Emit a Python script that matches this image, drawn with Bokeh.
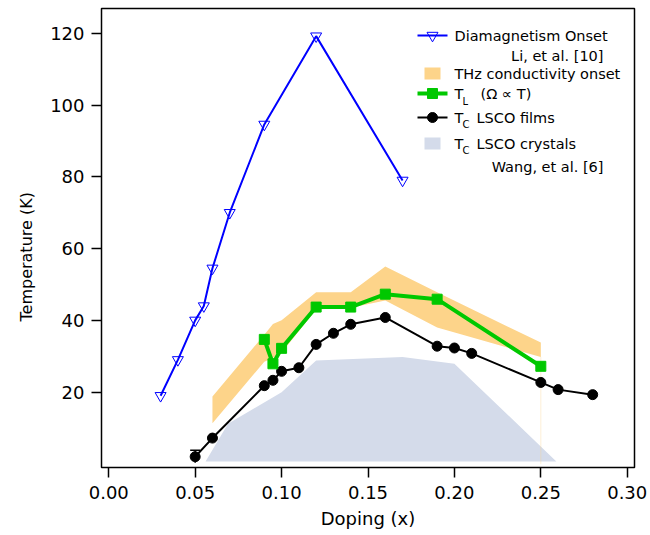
from bokeh.plotting import figure
from bokeh.models import (Range1d, Label, Whisker, ColumnDataSource, TeeHead,
                          FixedTicker, PrintfTickFormatter, Title)
from bokeh.embed import file_html
from bokeh.resources import INLINE

# Diamagnetism onset (Li et al.)
dia_x = [0.03, 0.04, 0.05, 0.055, 0.06, 0.07, 0.09, 0.12, 0.17]
dia_T = [19.0, 29.0, 40.0, 44.0, 54.5, 70.0, 94.6, 119.2, 79.0]

# THz conductivity onset band
band_x = [0.06, 0.09, 0.095, 0.10, 0.12, 0.14, 0.16, 0.19, 0.25]
band_hi = [18.8, 36.0, 39.0, 40.0, 47.8, 47.8, 55.0, 47.8, 33.8]
band_lo = [11.3, 28.5, 29.5, 31.0, 43.0, 43.5, 45.5, 38.0, 29.8]

# T_L (Omega proportional to T)
tl_x = [0.09, 0.095, 0.10, 0.12, 0.14, 0.16, 0.19, 0.25]
tl_T = [34.7, 27.9, 32.2, 43.7, 43.7, 47.3, 45.9, 27.2]

# Tc of LSCO films
film_x = [0.05, 0.06, 0.09, 0.095, 0.10, 0.11, 0.12, 0.13, 0.14, 0.16,
          0.19, 0.20, 0.21, 0.25, 0.26, 0.28]
film_T = [2.0, 7.2, 21.8, 23.3, 25.8, 26.8, 33.3, 36.4, 38.9, 40.8,
          32.8, 32.3, 30.8, 22.7, 20.7, 19.3]
err_x = [0.05]
err_lo = [0.3]
err_hi = [3.8]

# Tc of LSCO crystals (Wang et al.)
cry_x = [0.056, 0.069, 0.10, 0.12, 0.17, 0.20, 0.259]
cry_T = [0.7, 11.2, 20.0, 28.8, 29.8, 27.9, 0.7]

x_ticks = [0.0, 0.05, 0.10, 0.15, 0.20, 0.25, 0.30]
y_ticks = [20, 40, 60, 80, 100, 120]

BLUE = "#0000FF"
GREEN = "#00C800"
ORANGE = "#FDD48A"
CRYSTAL = "#D4DBEA"
FONT = "DejaVu Sans"

W, H = 650, 535
BL, BR, BT, BB = 101, 16, 8, 68
X0, X1 = -0.0042, 0.3042
Y0, Y1 = -1.0, 126.9

p = figure(width=W, height=H, output_backend="svg", toolbar_location=None,
           x_range=Range1d(X0, X1), y_range=Range1d(Y0, Y1),
           min_border_left=BL, min_border_right=BR,
           min_border_top=BT, min_border_bottom=BB)
p.grid.visible = False
p.outline_line_color = "black"
p.outline_line_width = 1.5
p.background_fill_color = "white"
p.border_fill_color = "white"


def sx(px):
    """canvas pixel column -> data x"""
    return X0 + (px - BL) * (X1 - X0) / (W - BL - BR)


def sy(py):
    """canvas pixel row -> data y"""
    return Y1 - (py - BT) * (Y1 - Y0) / (H - BT - BB)


for ax in (p.xaxis[0], p.yaxis[0]):
    ax.axis_line_color = None
    ax.major_tick_line_color = "black"
    ax.major_tick_line_width = 1.5
    ax.major_tick_in = 0
    ax.major_tick_out = 10
    ax.minor_tick_line_color = None
    ax.major_label_text_font = FONT
    ax.major_label_text_font_size = "18px"
    ax.major_label_text_color = "black"

p.xaxis.ticker = FixedTicker(ticks=x_ticks)
p.xaxis.formatter = PrintfTickFormatter(format="%.2f")
p.xaxis.major_label_standoff = 8
p.xaxis.axis_label = "Doping (x)"
p.xaxis.axis_label_text_font = FONT
p.xaxis.axis_label_text_font_size = "18px"
p.xaxis.axis_label_text_font_style = "normal"
p.xaxis.axis_label_text_color = "black"
p.xaxis.axis_label_standoff = 6

p.yaxis.ticker = FixedTicker(ticks=y_ticks)
p.yaxis.formatter = PrintfTickFormatter(format="%d")
p.yaxis.major_label_standoff = 7

p.add_layout(Title(text="Temperature (K)", align="left", offset=146,
                   vertical_align="top",
                   text_font=FONT, text_font_size="16px", text_font_style="normal",
                   text_color="black", standoff=20), "left")

# crystals region
p.patch(cry_x, cry_T, fill_color=CRYSTAL, line_color=None)

# THz onset band
p.varea(x=band_x, y1=band_lo, y2=band_hi, fill_color=ORANGE)
p.segment(x0=band_x[-1:], y0=band_lo[-1:], x1=band_x[-1:], y1=[0.0],
          line_color=ORANGE, line_alpha=0.35, line_width=1)

# films
p.add_layout(Whisker(source=ColumnDataSource(dict(x=err_x, lo=err_lo, hi=err_hi)),
                     base="x", lower="lo", upper="hi", dimension="height",
                     line_color="black", line_width=1.5,
                     upper_head=TeeHead(size=10, line_width=1.5, line_color="black"),
                     lower_head=None))
p.line(film_x, film_T, line_color="black", line_width=2)
p.scatter(film_x, film_T, marker="circle", size=10, fill_color="black", line_color="black")

# T_L
p.line(tl_x, tl_T, line_color=GREEN, line_width=4)
p.scatter(tl_x, tl_T, marker="square", size=10, fill_color=GREEN, line_color=GREEN)

# diamagnetism onset
p.line(dia_x, dia_T, line_color=BLUE, line_width=2)
p.scatter(dia_x, dia_T, marker="inverted_triangle", size=11, fill_color=None,
          line_color=BLUE, line_width=1)

# ---- legend ----
LX0, LX1, LXM, TX = 417, 447, 432, 454


def text(px, py, s, size="14.5px", align="left"):
    p.add_layout(Label(x=sx(px), y=sy(py), text=s, text_font=FONT, text_font_size=size,
                       text_align=align, text_baseline="middle", text_color="black"))


def sample_line(py, color, width, marker, msize, fill, lw=1):
    p.line([sx(LX0), sx(LX1)], [sy(py), sy(py)], line_color=color, line_width=width)
    p.scatter([sx(LXM)], [sy(py)], marker=marker, size=msize, fill_color=fill,
              line_color=color, line_width=lw)


def sample_box(py, color):
    p.quad(left=[sx(424)], right=[sx(440)], top=[sy(py - 6)], bottom=[sy(py + 6)],
           fill_color=color, line_color=None)


sample_line(35, BLUE, 2, "inverted_triangle", 11, None)
text(TX, 35, "Diamagnetism Onset")
text(603, 55, "Li, et al. [10]", align="right")

sample_box(73, ORANGE)
text(TX, 73, "THz conductivity onset")

sample_line(93, GREEN, 4, "square", 10, GREEN)
text(TX, 93, "T")
text(TX + 8, 101, "L", size="10px")
text(480, 93, "(\u03a9 \u221d T)")

sample_line(117, "black", 2, "circle", 10, "black")
text(TX, 117, "T")
text(TX + 8, 124, "C", size="10px")
text(476, 117, "LSCO films")

sample_box(143, CRYSTAL)
text(TX, 143, "T")
text(TX + 8, 150, "C", size="10px")
text(476, 143, "LSCO crystals")

text(603, 166, "Wang, et al. [6]", align="right")

open("out.html", "w").write(file_html(p, INLINE))
